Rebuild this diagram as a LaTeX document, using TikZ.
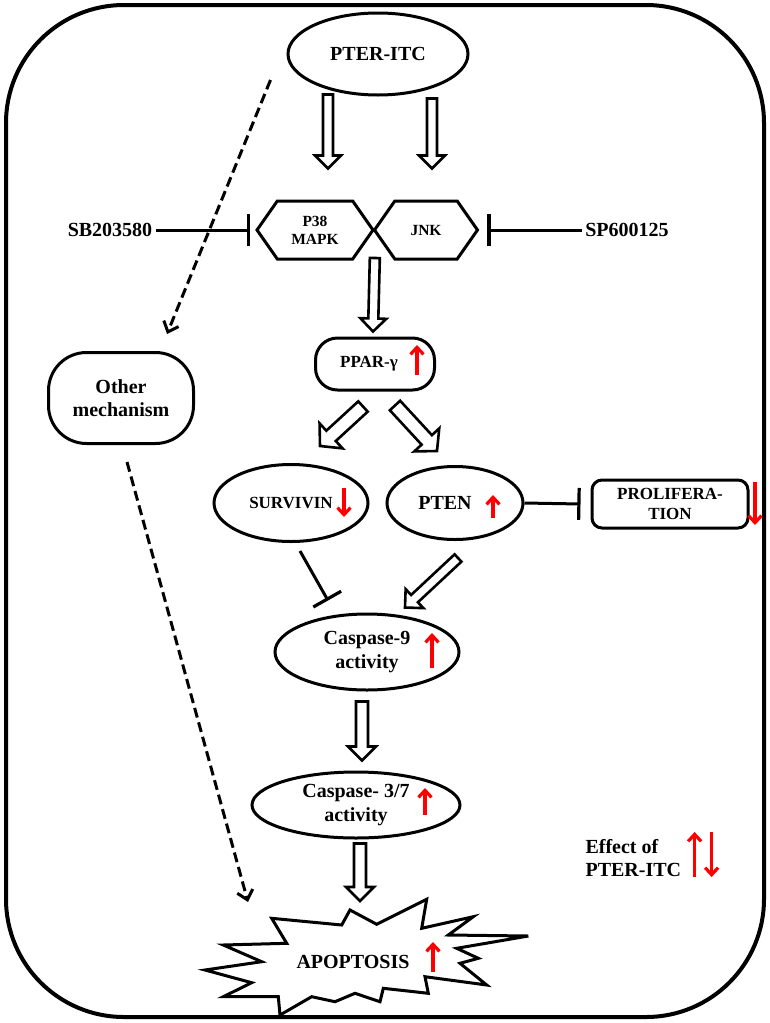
\documentclass[tikz,border=0pt]{standalone}
\usepackage{fontspec}
\setmainfont{Liberation Serif}
\usetikzlibrary{shapes.geometric,shapes.symbols,arrows.meta,calc}

\newcommand\shaftw{5pt}
\newcommand\headw{13pt}
\newcommand\headl{13pt}

\tikzset{
	hollow/.style={draw, fill=white, line width=2.6pt, line join=miter,
		to path={let \p1=(\tikztostart), \p2=(\tikztotarget),
			\n1={atan2(\y2-\y1,\x2-\x1)}, \n2={veclen(\x2-\x1,\y2-\y1)} in
			($(\p1)+(\n1+90:\shaftw)$)
			-- ($(\p1)+(\n1:\n2*1pt-\headl)+(\n1+90:\shaftw)$)
			-- ($(\p1)+(\n1:\n2*1pt-\headl)+(\n1+90:\headw)$)
			-- (\p2)
			-- ($(\p1)+(\n1:\n2*1pt-\headl)+(\n1-90:\headw)$)
			-- ($(\p1)+(\n1:\n2*1pt-\headl)+(\n1-90:\shaftw)$)
			-- ($(\p1)+(\n1-90:\shaftw)$) -- cycle}},
	wide shaft/.code={\def\shaftw{7pt}\def\headw{17pt}\def\headl{15pt}},
	mid shaft/.code={\def\shaftw{6pt}\def\headw{14pt}\def\headl{14pt}},
	blunt/.style={draw, line width=3pt, -{Bar[width=32pt, line width=3.2pt]}},
	mech/.style={draw, line width=3pt, dash pattern=on 10pt off 5pt, -{Straight Barb[length=9pt, width=16pt, line width=3pt]}},
	effect/.style={draw=red, line width=3.2pt, -{Straight Barb[length=7pt, width=13pt, line width=3.2pt]}},
	mid font/.style={font=\bfseries\fontsize{17}{20}\selectfont},
}

\begin{document}
\begin{tikzpicture}[x=1pt, y=-1pt, font=\bfseries\fontsize{20}{23.5}\selectfont]
	\useasboundingbox (0,0) rectangle (770,1023);
	\draw[line width=4pt, rounded corners=118pt] (6,5) rectangle (764,1017);

	\begin{scope}[every node/.style={draw, ellipse, line width=3pt, inner sep=0pt, align=center}]
		\node (pter) [minimum width=180pt, minimum height=82pt] at (378,54) {PTER-ITC};
		\node (surv) [minimum width=154pt, minimum height=77pt, mid font] at (291,503) {SURVIVIN};
		\node (pten) [minimum width=136pt, minimum height=73pt] at (455,503) {PTEN\hspace{20pt}};
		\node (casp9) [minimum width=184pt, minimum height=76pt] at (367,652) {Caspase-9\\activity};
		\node (casp37) [minimum width=208pt, minimum height=66pt] at (356,805) {Caspase- 3/7\\activity};
	\end{scope}
	\begin{scope}[every node/.style={draw, signal, signal to=west and east, signal pointer angle=110,
			line width=3pt, inner sep=0pt, minimum height=58pt, align=center,
			font=\bfseries\fontsize{15.5}{18}\selectfont}]
		\node (p38) [minimum width=116pt] at (315,230) {P38\\MAPK};
		\node (jnk) [minimum width=103pt] at (426,230) {JNK};
	\end{scope}
	\begin{scope}[every node/.style={draw, line width=3pt, inner sep=0pt, align=center}]
		\node (ppar) [rounded corners=22pt, minimum width=119pt, minimum height=52pt, mid font] at (375,364) {PPAR-γ\hspace{12pt}};
		\node (other) [rounded corners=38pt, minimum width=145pt, minimum height=91pt] at (121,398) {Other\\mechanism};
		\node (prolif) [rounded corners=10pt, minimum width=156pt, minimum height=48pt, mid font] at (670,504) {PROLIFERA-\\TION};
	\end{scope}

	\node (sb) at (110,230) {SB203580};
	\node (sp) at (627,230) {SP600125};
	\node (legend) [align=left, anchor=west] at (582,858) {Effect of\\PTER-ITC};

	% apoptosis burst
	\draw[line width=3pt, line join=miter] (271.7,918.3) -- (286.7,943.3) -- (223.3,945) -- (261.7,961.7)
		-- (205,970) -- (251.7,982.7) -- (223.3,996.7) -- (278.3,996.7) -- (280,1015) -- (311.7,996.7)
		-- (335,1001.7) -- (355,993.3) -- (380,1001.7) -- (383.3,988.3) -- (428.3,993.3) -- (425,976.7)
		-- (486.7,985) -- (460,963.3) -- (478.3,958.3) -- (456.7,948.3) -- (528.3,936) -- (448.3,935)
		-- (473.3,916.7) -- (421.7,928.3) -- (426.7,899.3) -- (376.7,924.3) -- (350,910) -- (341.7,925) -- cycle;
	\node (apop) at (353,962) {APOPTOSIS};
	\coordinate (apoptop) at (360,901);
	\coordinate (apopleft) at (248,902);

	\begin{scope}[every edge/.style={hollow}]
		\path ($(pter.south)+(-50,-2)$) edge ($(p38.north)+(13,-31)$);
		\path ($(pter.south)+(54,2)$) edge ($(jnk.north)+(6,-31)$);
		\path ($(p38.east)+(0,28)$) edge ($(ppar.north)+(-2,-5)$);
		\path ($(ppar.south)+(-12,15)$) edge[wide shaft] ($(surv.north)+(29,-17)$);
		\path ($(ppar.south)+(20,14)$) edge[wide shaft] ($(pten.north)+(-18,-14)$);
		\path ($(pten.south)+(3,17)$) edge ($(casp9.north)+(38,-5)$);
		\path ($(casp9.south)+(-5,10)$) edge[mid shaft] ($(casp37.north)+(6,-10)$);
		\path ($(casp37.south)+(4,4)$) edge[mid shaft] (apoptop);
	\end{scope}

	\draw[blunt] (sb.east) -- ($(p38.west)+(-5,0)$);
	\draw[blunt] (sp.west) -- ($(jnk.east)+(8,0)$);
	\draw[blunt] (pten.east) -- ($(prolif.west)+(-10,0)$);
	\draw[blunt] ($(surv.south)+(9,8)$) -- ($(casp9.north)+(-39,-12)$);

	\draw[mech] ($(pter.west)+(-16,26)$) -- ($(other.north)+(46,-17)$);
	\draw[mech] ($(other.south)+(6,17)$) -- (apopleft);

	% effect arrows
	\draw[effect] ($(ppar.center)+(42,11)$) -- ++(0,-30);
	\draw[effect] ($(surv.center)+(53,-15)$) -- ++(0,29);
	\draw[effect] ($(pten.center)+(38,15)$) -- ++(0,-23);
	\draw[effect] ($(prolif.center)+(85,-22)$) -- ++(0,43);
	\draw[effect] ($(casp9.center)+(65,16)$) -- ++(0,-35);
	\draw[effect] ($(casp37.center)+(69,10)$) -- ++(0,-27);
	\draw[effect] ($(apop.center)+(80,10)$) -- ++(0,-30);
	\draw[effect] ($(legend.east)+(10,19)$) -- ++(0,-45);
	\draw[effect] ($(legend.east)+(27,-26)$) -- ++(0,45);
\end{tikzpicture}
\end{document}
